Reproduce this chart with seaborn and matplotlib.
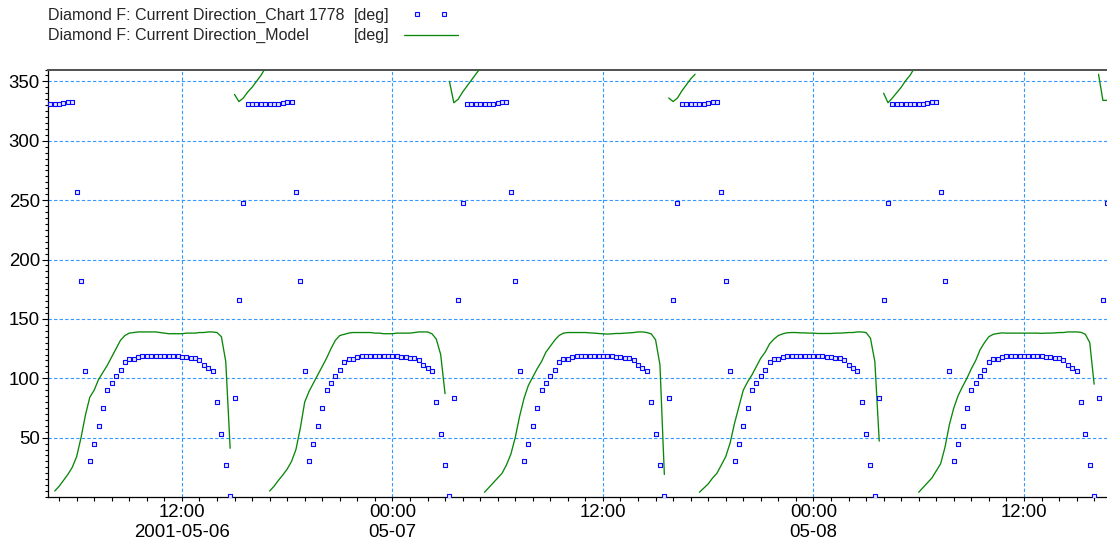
#!/usr/bin/env python3
"""
Current direction at Diamond F: digitised chart readings vs. model output.
Saves the figure as out.png.
"""

import numpy as np
import pandas as pd
import matplotlib
matplotlib.use('Agg')
import matplotlib.pyplot as plt
import matplotlib.dates as mdates
from matplotlib.lines import Line2D
from matplotlib.legend_handler import HandlerLine2D
from matplotlib.ticker import FixedLocator, MultipleLocator
import seaborn as sns

# ------------------------------
# DATA (15 minute steps)
# ------------------------------
OBS_NAME = 'Diamond F: Current Direction_Chart 1778'
MODEL_NAME = 'Diamond F: Current Direction_Model'
UNIT = '[deg]'

obs_start = '2001-05-06 04:30'
model_start = '2001-05-06 04:45'
STEP = '15min'

# chart 1778 readings [deg]
obs_cycle1 = [331, 331, 331, 332, 333, 333,
              257, 182, 106, 30, 45, 60, 75, 90, 96, 102, 107, 114, 116, 116, 118,
              119, 119, 119, 119, 119, 119, 119, 119, 119,
              118, 118, 117, 117, 115, 111, 109, 106, 80, 53, 27, 1, 83, 166, 248]
obs_cycle2 = [331, 331, 331, 331, 331, 331, 331, 331, 332, 333, 333,
              257, 182, 106, 30, 45, 60, 75, 90, 96, 102, 107, 114, 116, 116, 118,
              119, 119, 119, 119, 119, 119, 119, 119, 119,
              118, 118, 117, 117, 115, 111, 109, 106, 80, 53, 27, 1, 83, 166, 248]
obs_cycle3 = [331, 331, 331, 331, 331, 331, 331, 332, 333, 333,
              257, 182, 106, 30, 45, 60, 75, 90, 96, 102, 107, 114, 116, 116, 118,
              119, 119, 119, 119, 119, 119, 119, 119, 119,
              118, 118, 117, 117, 115, 111, 109, 106, 80, 53, 27, 1, 83, 166, 248]
obs_cycle4 = [331, 331, 331, 331, 331, 331, 332, 333, 333,
              257, 182, 106, 30, 45, 60, 75, 90, 96, 102, 107, 114, 116, 116, 118,
              119, 119, 119, 119, 119, 119, 119, 119, 119,
              118, 118, 117, 117, 115, 111, 109, 106, 80, 53, 27, 1, 83, 166, 248]
obs_cycle5 = [331, 331, 331, 331, 331, 331, 331, 331, 332, 333, 333,
              257, 182, 106, 30, 45, 60, 75, 90, 96, 102, 107, 114, 116, 116, 118,
              119, 119, 119, 119, 119, 119, 119, 119, 119,
              118, 118, 117, 117, 115, 111, 109, 106, 80, 53, 27, 1, 83, 166, 248]

# model output [deg]
model_cycle1 = [5, 9, 14, 19, 25, 34, 50, 69, 84, 90, 99, 105, 111, 118, 125, 132, 136, 138, 138.5,
                139, 139, 139, 139, 139, 138.5, 138, 137.5, 137.5, 137.5, 137.5, 138, 138, 138,
                138.5, 138.5, 139, 139, 138.5, 135, 114, 41,
                339, 333, 336, 341, 345, 350, 355, 361]
model_cycle2 = [5, 9, 14, 18.5, 23.5, 30, 40, 58, 80, 89, 96, 103, 110, 117, 125, 132, 136, 137, 138,
                138.5, 138.5, 138.5, 138.5, 138.5, 138, 138, 137.5, 137.5, 137.5, 138, 138, 138,
                138, 138.5, 139, 139, 139, 137.5, 133, 120, 87,
                350, 332, 335, 341, 346, 351, 356, 361]
model_cycle3 = [4, 8, 12, 16, 20, 27, 36, 50, 68, 83, 94, 101, 108, 114, 122, 127, 132, 136, 138,
                138.5, 138.5, 138.5, 138.5, 138.5, 138.2, 138, 137.7, 137.4, 137.2, 137.4, 137.7,
                137.7, 138, 138.2, 138.5, 139, 139, 138.5, 137.4, 132.4, 111.4, 19,
                336, 333, 336, 342, 347, 352, 356]
model_cycle4 = [4, 7.5, 11, 16, 20, 27, 34, 45.5, 62, 76, 90, 97, 103, 110, 117, 122, 129, 133, 136,
                137.4, 138.3, 138.5, 138.5, 138.2, 138.2, 138, 138, 137.7, 137.7, 137.7, 137.7,
                138, 138, 138.2, 138.5, 138.5, 139, 139, 138.5, 133.7, 114, 47,
                340, 332, 336, 340.5, 345, 350.5, 355, 361]
model_cycle5 = [4, 8, 12, 16, 22, 28, 42, 61, 75, 85.5, 93, 100, 108, 115, 124, 130, 135, 137, 137.7,
                138.2, 138, 138, 138, 138, 138, 138, 138, 138, 137.8, 138, 138, 138.2, 138.5,
                138.5, 139, 139, 139, 138.7, 137, 130, 95,
                356, 334, 334]

# axes
y_ticks = [50, 100, 150, 200, 250, 300, 350]
x_ticks = ['2001-05-06 12:00', '2001-05-07 00:00', '2001-05-07 12:00',
           '2001-05-08 00:00', '2001-05-08 12:00']
x_tick_labels = ['12:00\n2001-05-06', '00:00\n05-07', '12:00', '00:00\n05-08', '12:00']
x_range = ('2001-05-06 04:22', '2001-05-08 16:44')
y_range = (0, 360)

# ------------------------------
# STYLE
# ------------------------------
W, H = 1107, 546
OBS_FACE = '#e6e8ff'
OBS_EDGE = '#0a0aff'
MODEL_GREEN = '#0a870a'
GRID_BLUE = '#3399ff'
FS_TICK = 13.4
FS_LEG = 11.5


def build_frames():
    obs = obs_cycle1 + obs_cycle2 + obs_cycle3 + obs_cycle4 + obs_cycle5
    obs_df = pd.DataFrame({
        'time': pd.date_range(obs_start, periods=len(obs), freq=STEP),
        'deg': obs,
    })
    model = model_cycle1 + model_cycle2 + model_cycle3 + model_cycle4 + model_cycle5
    model_df = pd.DataFrame({
        'time': pd.date_range(model_start, periods=len(model), freq=STEP),
        'deg': model,
    })
    # break the line where the direction wraps round 0/360
    jumps = model_df['deg'].diff().abs() > 180
    model_df['seg'] = jumps.cumsum()
    return obs_df, model_df


def main():
    obs_df, model_df = build_frames()

    sns.set_style('white')
    plt.rcParams['font.family'] = ['Liberation Sans', 'DejaVu Sans']

    fig = plt.figure(figsize=(W / 100, H / 100), dpi=100)
    ax = fig.add_axes([48 / W, 49 / H, 1 - 48 / W, 427.5 / H])

    sns.lineplot(data=model_df, x='time', y='deg', units='seg', estimator=None,
                 color=MODEL_GREEN, linewidth=0.95, ax=ax, zorder=3)
    sns.scatterplot(data=obs_df, x='time', y='deg', marker='s', s=5.5,
                    color=OBS_FACE, edgecolor=OBS_EDGE, linewidth=0.8, ax=ax, zorder=4)

    ax.set_xlim(pd.Timestamp(x_range[0]), pd.Timestamp(x_range[1]))
    ax.set_ylim(*y_range)
    ax.set_xlabel('')
    ax.set_ylabel('')

    ax.xaxis.set_major_locator(FixedLocator(mdates.date2num(pd.to_datetime(x_ticks))))
    ax.set_xticklabels(x_tick_labels, linespacing=1.2)
    ax.xaxis.set_minor_locator(mdates.HourLocator(interval=1))
    ax.yaxis.set_major_locator(FixedLocator(y_ticks))
    ax.yaxis.set_minor_locator(MultipleLocator(5))

    ax.tick_params(axis='both', which='both', direction='out', colors='black',
                   bottom=True, left=True, width=0.8)
    ax.tick_params(axis='x', which='major', length=3, pad=2, labelsize=FS_TICK)
    ax.tick_params(axis='x', which='minor', length=3)
    ax.tick_params(axis='y', which='major', length=4.3, pad=1.5, labelsize=FS_TICK)
    ax.tick_params(axis='y', which='minor', length=2.2)

    ax.grid(True, which='major', color=GRID_BLUE, linestyle=(0, (3, 2)), linewidth=0.8)
    ax.set_axisbelow(True)

    for side in ['left', 'bottom']:
        ax.spines[side].set_color('black')
        ax.spines[side].set_linewidth(0.9)
    ax.spines['top'].set_color('#505050')
    ax.spines['top'].set_linewidth(1.4)
    ax.spines['right'].set_visible(False)

    # legend: name column, unit column, key
    fig.text(48 / W, 1 - 20 / H, OBS_NAME, fontsize=FS_LEG, va='baseline')
    fig.text(48 / W, 1 - 40 / H, MODEL_NAME, fontsize=FS_LEG, va='baseline')
    obs_key = Line2D([], [], linestyle='none', marker='s', markersize=2.35,
                     markerfacecolor=OBS_FACE, markeredgecolor=OBS_EDGE, markeredgewidth=0.8)
    model_key = Line2D([], [], color=MODEL_GREEN, linewidth=0.95)
    fs_px = FS_LEG * 100 / 72
    fig.legend([obs_key, model_key], [UNIT, UNIT], loc='upper left',
               bbox_to_anchor=(354 / W, 1 - 8 / H), bbox_transform=fig.transFigure,
               frameon=False, markerfirst=False, fontsize=FS_LEG,
               handlelength=54 / fs_px, handletextpad=14 / fs_px,
               borderpad=0, borderaxespad=0, labelspacing=0.33,
               handler_map={obs_key: HandlerLine2D(numpoints=2, marker_pad=0.85)})

    fig.savefig('out.png', dpi=100)
    plt.close(fig)


if __name__ == '__main__':
    main()
